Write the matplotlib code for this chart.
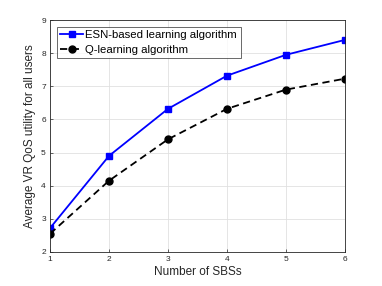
import matplotlib
matplotlib.use("Agg")
import matplotlib.pyplot as plt

plt.rcParams['font.family'] = ['Liberation Sans', 'DejaVu Sans']

x = [1, 2, 3, 4, 5, 6]
esn = [2.72, 4.90, 6.32, 7.32, 7.95, 8.40]
qlearn = [2.55, 4.15, 5.40, 6.32, 6.90, 7.23]
xticks = [1, 2, 3, 4, 5, 6]
yticks = [2, 3, 4, 5, 6, 7, 8, 9]

fig = plt.figure(figsize=(3.82, 2.86), dpi=100)
ax = fig.add_axes([0.131, 0.119, 0.772, 0.811])

ax.plot(x, esn, '-s', color='#0000ff', lw=1.3, ms=4.5, label='ESN-based learning algorithm')
ax.plot(x, qlearn, '--o', color='black', lw=1.3, ms=5, label='Q-learning algorithm', dashes=(4, 2.5))

ax.set_xlim(1, 6)
ax.set_ylim(2, 9)
ax.set_xticks(xticks)
ax.set_yticks(yticks)
ax.grid(True, color='#e0e0e0', lw=0.6)
ax.set_axisbelow(True)
for s in ax.spines.values():
    s.set_color('#262626')
    s.set_linewidth(0.6)
ax.tick_params(labelsize=6, colors='#262626', direction='in', length=2.5, width=0.5, pad=3)
ax.set_xlabel('Number of SBSs', fontsize=8.5, color='#262626', labelpad=2)
ax.set_ylabel('Average VR QoS utility for all users', fontsize=8.5, color='#262626', labelpad=4)

leg = ax.legend(loc='upper left', fontsize=8.2, frameon=True, fancybox=False,
                edgecolor='#262626', handlelength=2.0, handletextpad=0.2,
                borderpad=0.3, labelspacing=0.4, borderaxespad=0.6)
leg.get_frame().set_linewidth(0.6)

fig.savefig('out.png', dpi=100)
